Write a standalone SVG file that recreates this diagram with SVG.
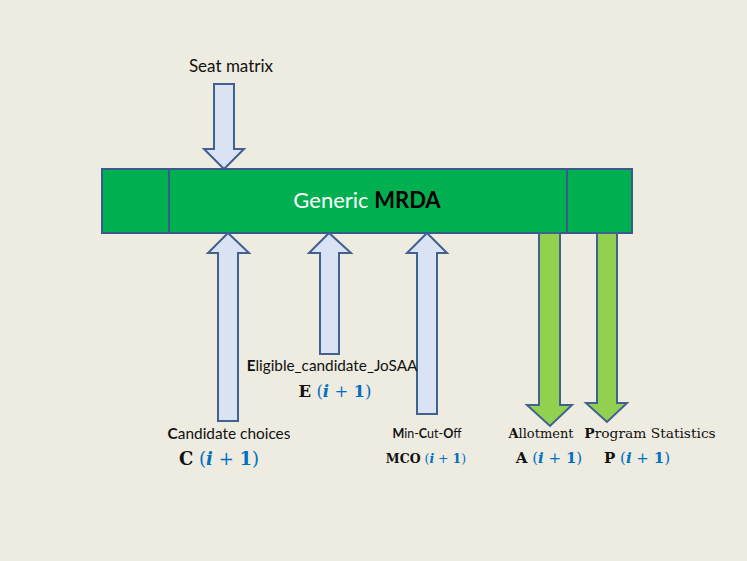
<svg xmlns="http://www.w3.org/2000/svg" width="747" height="561" viewBox="0 0 747 561">
<style>
.lt{fill:#DAE3F3;stroke:#41618F;stroke-width:2;stroke-linejoin:miter}
.gr{fill:#92D050;stroke:#41618F;stroke-width:2;stroke-linejoin:miter}
.box{fill:#00B050;stroke:#3A5A8C;stroke-width:2}
.sans{font-family:Lato,"Liberation Sans",sans-serif;fill:#111}
.serif{font-family:"DejaVu Serif","Liberation Serif",serif;fill:#111}
.m{fill:#0070C0}
</style>
<rect width="747" height="561" fill="#EEEBE0"/>
<g id="mrda">
<rect class="box" x="102" y="169" width="530" height="64"/>
<line x1="169" y1="169" x2="169" y2="233" stroke="#3A5A8C" stroke-width="2"/>
<line x1="567" y1="169" x2="567" y2="233" stroke="#3A5A8C" stroke-width="2"/>
<text x="367" y="208" text-anchor="middle" font-family="Lato,'Liberation Sans',sans-serif" font-size="22"><tspan fill="#fff">Generic </tspan><tspan fill="#000" font-weight="bold">MRDA</tspan></text>
</g>
<g id="connectors">
<path class="lt" d="M214,84 H234 V149 H244 L224,169 L204,149 H214 Z"/>
<path class="lt" d="M218,421 V253 H208 L228,233 L249,253 H238 V421 Z"/>
<path class="lt" d="M320,354 V253 H309 L329,233 L351,253 H339 V354 Z"/>
<path class="lt" d="M417,414 V253 H407 L427,233 L447,253 H437 V414 Z"/>
<path class="gr" d="M539,233 H560 V405 H572 L550,426 L527,405 H539 Z"/>
<path class="gr" d="M597,233 H617 V403 H627 L607,422 L586,403 H597 Z"/>
</g>
<g id="seat">
<text class="sans" x="231" y="72" text-anchor="middle" font-size="17">Seat matrix</text>
</g>
<g id="eligible">
<text class="sans" x="332" y="371" text-anchor="middle" font-size="15.3"><tspan font-weight="bold">E</tspan>ligible_candidate_JoSAA</text>
<text class="serif" x="335" y="397" text-anchor="middle" font-size="16.5"><tspan font-weight="bold">E</tspan><tspan class="m"> (</tspan><tspan class="m" font-weight="bold" font-style="italic">i</tspan><tspan class="m"> + </tspan><tspan class="m" font-weight="bold">1</tspan><tspan class="m">)</tspan></text>
</g>
<g id="candidate">
<text class="sans" x="229" y="439" text-anchor="middle" font-size="15.4"><tspan font-weight="bold">C</tspan>andidate choices</text>
<text class="serif" x="219" y="465" text-anchor="middle" font-size="18"><tspan font-weight="bold">C</tspan><tspan class="m"> (</tspan><tspan class="m" font-weight="bold" font-style="italic">i</tspan><tspan class="m"> + </tspan><tspan class="m" font-weight="bold">1</tspan><tspan class="m">)</tspan></text>
</g>
<g id="mco">
<text class="sans" x="427" y="438" text-anchor="middle" font-size="12.5"><tspan font-weight="bold">M</tspan>in-<tspan font-weight="bold">C</tspan>ut-<tspan font-weight="bold">O</tspan>ff</text>
<text class="serif" x="426" y="463" text-anchor="middle" font-size="12.5"><tspan font-weight="bold">MCO</tspan><tspan class="m"> (</tspan><tspan class="m" font-weight="bold" font-style="italic">i</tspan><tspan class="m"> + </tspan><tspan class="m" font-weight="bold">1</tspan><tspan class="m">)</tspan></text>
</g>
<g id="allotment">
<text class="serif" x="541" y="438" text-anchor="middle" font-size="13"><tspan font-weight="bold">A</tspan>llotment</text>
<text class="serif" x="549" y="463" text-anchor="middle" font-size="15"><tspan font-weight="bold">A</tspan><tspan class="m"> (</tspan><tspan class="m" font-weight="bold" font-style="italic">i</tspan><tspan class="m"> + </tspan><tspan class="m" font-weight="bold">1</tspan><tspan class="m">)</tspan></text>
</g>
<g id="program">
<text class="serif" x="650" y="438" text-anchor="middle" font-size="13.8"><tspan font-weight="bold">P</tspan>rogram Statistics</text>
<text class="serif" x="637" y="463" text-anchor="middle" font-size="15"><tspan font-weight="bold">P</tspan><tspan class="m"> (</tspan><tspan class="m" font-weight="bold" font-style="italic">i</tspan><tspan class="m"> + </tspan><tspan class="m" font-weight="bold">1</tspan><tspan class="m">)</tspan></text>
</g>
</svg>
